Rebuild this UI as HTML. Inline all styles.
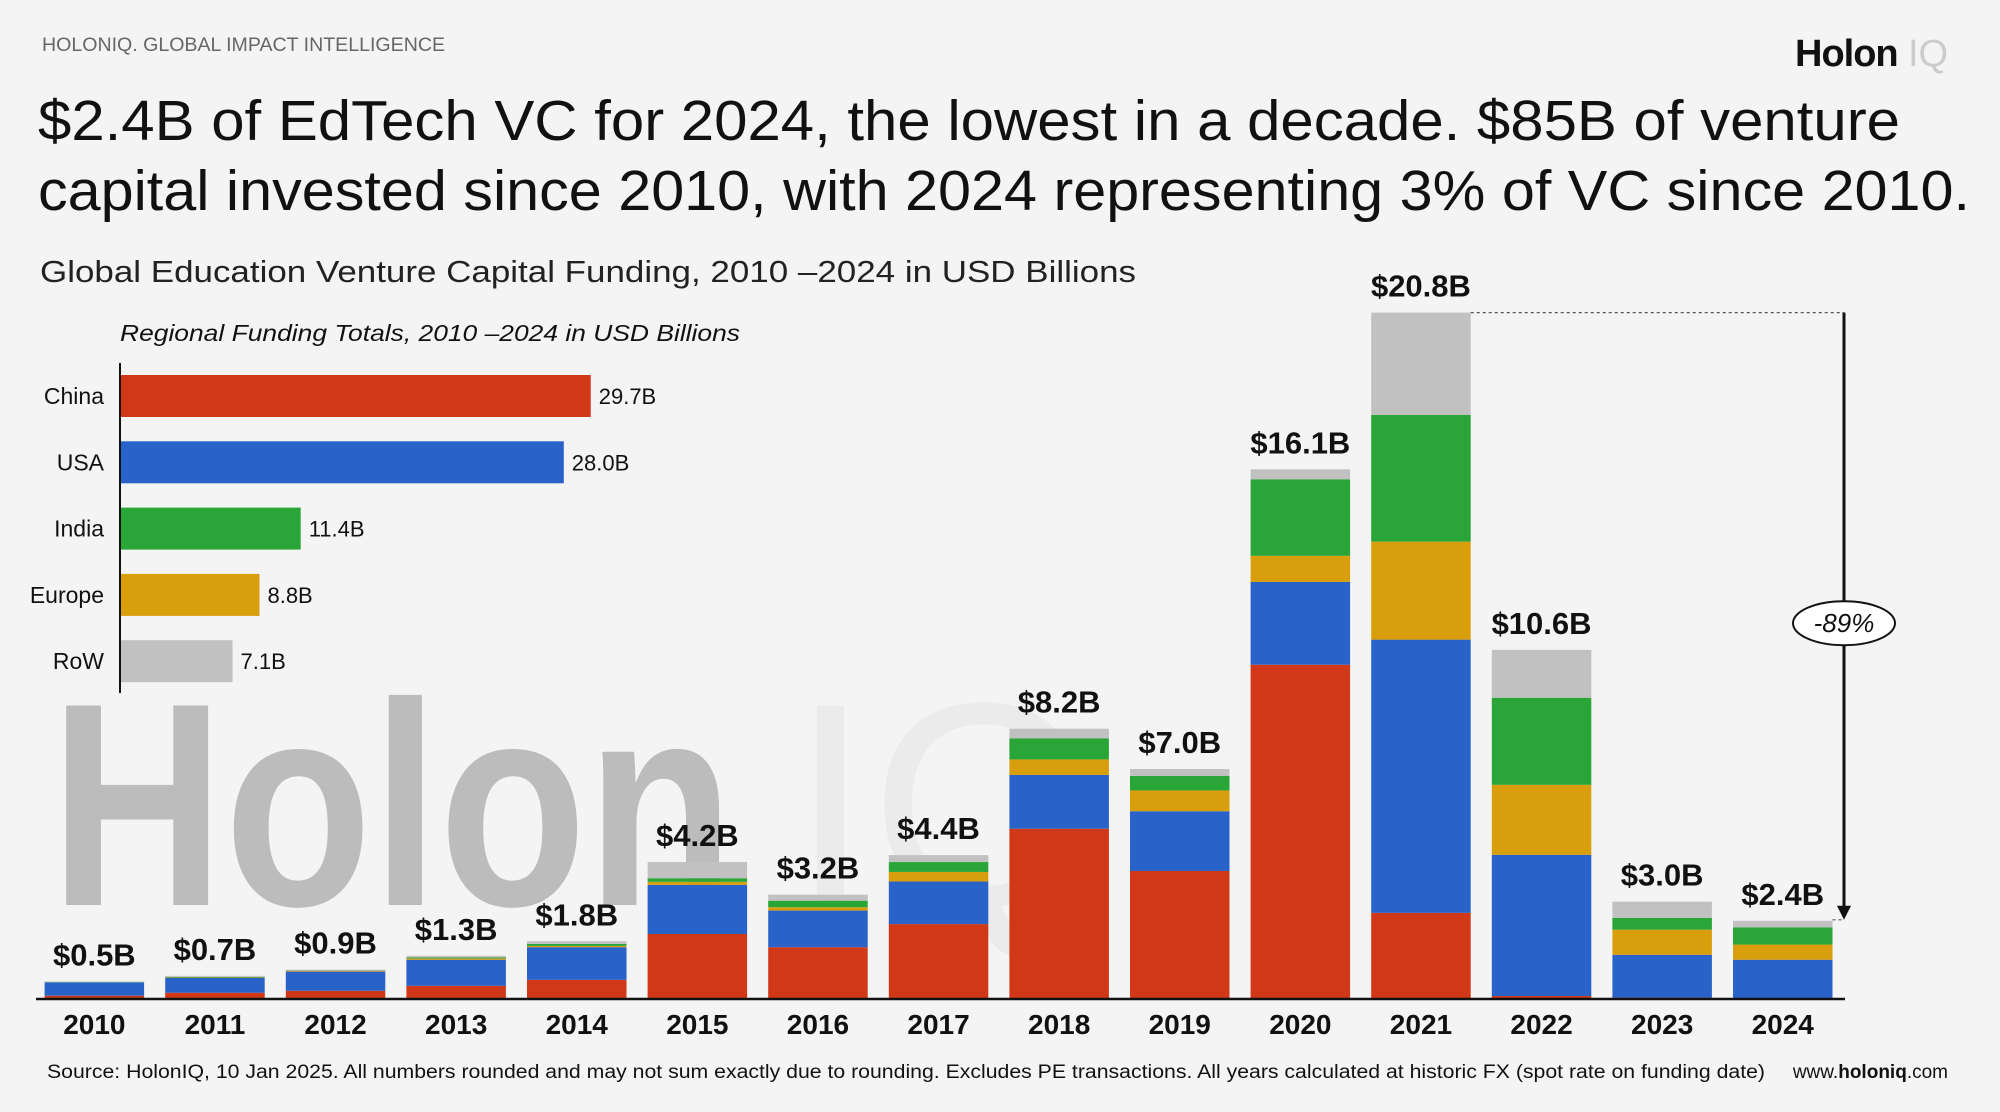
<!DOCTYPE html>
<html><head><meta charset="utf-8"><style>
html,body{margin:0;padding:0;background:#f4f4f4;}
svg{display:block;font-family:"Liberation Sans",sans-serif;}
</style></head><body>
<svg id="chart" width="2000" height="1112" viewBox="0 0 2000 1112" xmlns="http://www.w3.org/2000/svg">
<rect width="2000" height="1112" fill="#f4f4f4"/>
<g id="watermark">
<text x="50" y="905" font-size="290" font-weight="bold" fill="#bcbcbc" textLength="684" lengthAdjust="spacingAndGlyphs">Holon</text>
<text x="790" y="905" font-size="290" fill="#ebebeb">IQ</text>
</g>
<text x="42" y="51" font-size="19" fill="#666" textLength="403" lengthAdjust="spacingAndGlyphs">HOLONIQ. GLOBAL IMPACT INTELLIGENCE</text>
<g><text x="1795" y="66" font-size="38" font-weight="bold" fill="#111" letter-spacing="-1">Holon</text><text x="1908" y="66" font-size="38" fill="#ccc">IQ</text></g>
<text font-size="57" fill="#111"><tspan x="38" y="140" textLength="1862" lengthAdjust="spacingAndGlyphs">$2.4B of EdTech VC for 2024, the lowest in a decade. $85B of venture</tspan><tspan x="38" y="210" textLength="1932" lengthAdjust="spacingAndGlyphs">capital invested since 2010, with 2024 representing 3% of VC since 2010.</tspan></text>
<text x="40" y="282" font-size="31" fill="#222" textLength="1096" lengthAdjust="spacingAndGlyphs">Global Education Venture Capital Funding, 2010 –2024 in USD Billions</text>
<text x="120" y="341" font-size="23" font-style="italic" fill="#111" textLength="620" lengthAdjust="spacingAndGlyphs">Regional Funding Totals, 2010 –2024 in USD Billions</text>
<g id="inset"></g>
<g id="bars"></g>
<line x1="36" y1="999" x2="1845" y2="999" stroke="#111" stroke-width="2.5"/>
<g id="annot"></g>
<text x="47" y="1078" font-size="19" fill="#111" textLength="1718" lengthAdjust="spacingAndGlyphs">Source: HolonIQ, 10 Jan 2025. All numbers rounded and may not sum exactly due to rounding. Excludes PE transactions. All years calculated at historic FX (spot rate on funding date)</text>
<text x="1948" y="1078" font-size="19" fill="#111" text-anchor="end">www.<tspan font-weight="bold">holoniq</tspan>.com</text>
</svg>
<script>
const years=["2010","2011","2012","2013","2014","2015","2016","2017","2018","2019","2020","2021","2022","2023","2024"];
const totals=[0.5,0.7,0.9,1.3,1.8,4.2,3.2,4.4,8.2,7.0,16.1,20.8,10.6,3.0,2.4];
const china=[0.10,0.19,0.25,0.40,0.58,1.97,1.57,2.27,5.16,3.88,10.13,2.61,0.09,0.04,0.02];
const usa=[0.40,0.45,0.58,0.79,0.99,1.49,1.11,1.29,1.63,1.81,2.51,8.28,4.28,1.30,1.17];
const europe=[0.00,0.01,0.02,0.04,0.04,0.09,0.10,0.29,0.47,0.63,0.79,2.97,2.12,0.76,0.46];
const india=[0.01,0.02,0.01,0.03,0.06,0.11,0.20,0.30,0.64,0.44,2.32,3.84,2.64,0.36,0.52];
const row=[0.02,0.03,0.03,0.05,0.08,0.49,0.18,0.21,0.29,0.21,0.30,3.10,1.45,0.49,0.20];
const regions=["China","USA","India","Europe","RoW"];
const regionTotals=[29.7,28.0,11.4,8.8,7.1];
const NS="http://www.w3.org/2000/svg";
function mk(t,a,p){const e=document.createElementNS(NS,t);for(const k in a)e.setAttribute(k,a[k]);p.appendChild(e);return e;}
const base=999,pxPerB=33.0,x0=44.6,pitch=120.6,bw=99.5;
const yS=v=>v*pxPerB;const xS=i=>x0+i*pitch;
const series=[china,usa,europe,india,row];
const cols=["#d13817","#2962c8","#d99e0b","#2aa537","#c1c1c1"];
const snames=["china","usa","europe","india","row"];
const bars=document.getElementById('bars');
years.forEach((y,i)=>{
 let cum=0;
 series.forEach((s,k)=>{
  const h=yS(s[i]);
  const r=mk('rect',{x:xS(i),y:base-yS(cum)-h,width:bw,height:h,fill:cols[k]},bars);
  
  
  cum+=s[i];
 });
 const top=base-yS(cum);
 const t=mk('text',{x:xS(i)+bw/2,y:top-16,'font-size':31,'font-weight':'bold','text-anchor':'middle',fill:'#111'},bars);
 t.textContent='$'+totals[i].toFixed(1)+'B';
 
 
 const yl=mk('text',{x:xS(i)+bw/2,y:1034,'font-size':28,'font-weight':'bold','text-anchor':'middle',fill:'#111'},bars);
 yl.textContent=y;
 
 
});
const inset=document.getElementById('inset');
const ix=120,iy0=375,ip=66.3,ih=42,ipx=15.85;
const icols=["#d13817","#2962c8","#2aa537","#d99e0b","#c1c1c1"];
regions.forEach((r,i)=>{
 const y=iy0+i*ip;
 const b=mk('rect',{x:ix,y:y,width:regionTotals[i]*ipx,height:ih,fill:icols[i]},inset);
 
 
 const l=mk('text',{x:104,y:y+ih/2+8,'font-size':23,'text-anchor':'end',fill:'#111'},inset);
 l.textContent=r;
 
 
 const v=mk('text',{x:ix+regionTotals[i]*ipx+8,y:y+ih/2+8,'font-size':22,fill:'#111'},inset);
 v.textContent=regionTotals[i].toFixed(1)+'B';
 
 
});
const ax=mk('line',{x1:ix,y1:363,x2:ix,y2:693,stroke:'#111','stroke-width':2},inset);


const an=document.getElementById('annot');
const topA=base-yS(totals[11]),topB=base-yS(totals[14]),axx=1844;
const d1=mk('line',{x1:xS(11)+bw,y1:topA,x2:axx,y2:topA,stroke:'#555','stroke-width':1.2,'stroke-dasharray':'3,3'},an);


const d2=mk('line',{x1:xS(14)+bw,y1:topB,x2:axx,y2:topB,stroke:'#555','stroke-width':1.2,'stroke-dasharray':'3,3'},an);


const ar=mk('line',{x1:axx,y1:topA,x2:axx,y2:topB-12,stroke:'#111','stroke-width':3},an);


const ah=mk('polygon',{points:`${axx-7},${topB-14} ${axx+7},${topB-14} ${axx},${topB}`,fill:'#111'},an);


const my=(topA+topB)/2+7;
const el=mk('ellipse',{cx:axx,cy:my,rx:51,ry:22,fill:'#fff',stroke:'#111','stroke-width':2},an);


const pt=mk('text',{x:axx,y:my+9,'font-size':26,'font-style':'italic','text-anchor':'middle',fill:'#111'},an);
pt.textContent='-89%';


</script>
</body></html>
